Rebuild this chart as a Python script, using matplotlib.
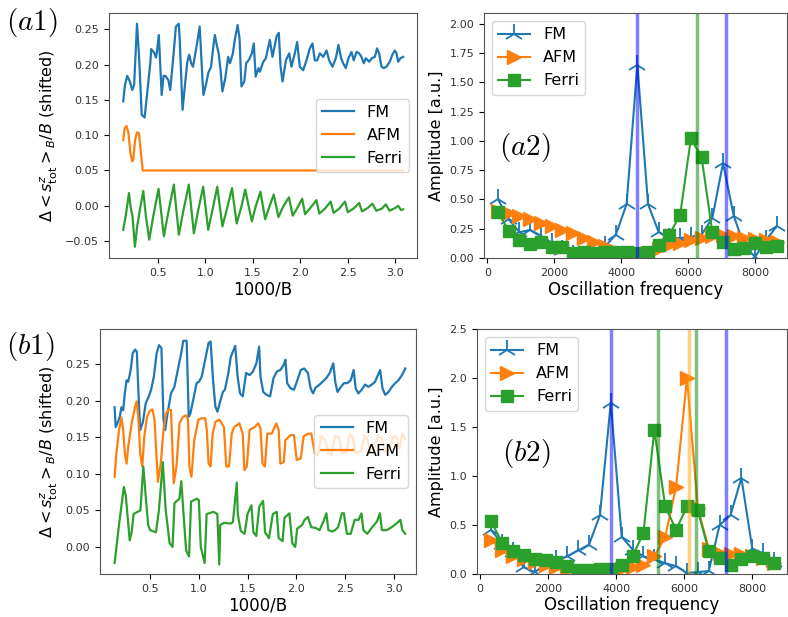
import matplotlib.pyplot as plt

# ---- left panels: (1000/B, shifted signal) vertices ----
a1_fm = [(0.135, 0.148), (0.153, 0.171), (0.177, 0.184), (0.205, 0.176), (0.23, 0.164), (0.25, 0.171),
         (0.28, 0.258), (0.30, 0.216), (0.33, 0.129), (0.36, 0.125), (0.38, 0.15), (0.42, 0.202),
         (0.43, 0.222), (0.46, 0.217), (0.48, 0.21), (0.49, 0.218), (0.51, 0.242), (0.54, 0.157),
         (0.56, 0.184), (0.58, 0.184), (0.61, 0.178), (0.63, 0.164), (0.66, 0.207), (0.69, 0.254),
         (0.72, 0.258), (0.73, 0.235), (0.76, 0.136), (0.78, 0.164), (0.81, 0.204), (0.83, 0.214),
         (0.85, 0.202), (0.87, 0.197), (0.91, 0.228), (0.94, 0.254), (0.95, 0.23), (0.97, 0.178),
         (0.98, 0.157), (1.01, 0.174), (1.03, 0.188), (1.06, 0.197), (1.08, 0.221), (1.10, 0.242),
         (1.12, 0.228), (1.14, 0.216), (1.16, 0.192), (1.18, 0.162), (1.21, 0.181), (1.24, 0.211),
         (1.26, 0.202), (1.29, 0.216), (1.31, 0.235), (1.34, 0.256), (1.36, 0.237), (1.38, 0.169),
         (1.41, 0.176), (1.43, 0.202), (1.46, 0.207), (1.49, 0.216), (1.51, 0.23), (1.53, 0.183),
         (1.56, 0.195), (1.574, 0.19), (1.61, 0.204), (1.637, 0.209), (1.679, 0.235), (1.707, 0.211),
         (1.75, 0.24), (1.774, 0.245), (1.792, 0.197), (1.813, 0.176), (1.848, 0.206), (1.883, 0.216),
         (1.907, 0.197), (1.942, 0.216), (1.967, 0.232), (1.995, 0.197), (2.03, 0.192), (2.065, 0.206),
         (2.1, 0.223), (2.128, 0.23), (2.153, 0.206), (2.178, 0.206), (2.206, 0.216), (2.241, 0.211),
         (2.276, 0.22), (2.304, 0.206), (2.339, 0.197), (2.374, 0.209), (2.402, 0.228), (2.43, 0.209),
         (2.451, 0.202), (2.479, 0.195), (2.507, 0.209), (2.539, 0.218), (2.563, 0.206), (2.592, 0.218),
         (2.62, 0.216), (2.644, 0.211), (2.669, 0.202), (2.69, 0.209), (2.725, 0.204), (2.753, 0.209),
         (2.785, 0.211), (2.809, 0.223), (2.83, 0.216), (2.855, 0.197), (2.879, 0.195), (2.907, 0.197),
         (2.942, 0.204), (2.97, 0.214), (2.995, 0.22), (3.013, 0.216), (3.03, 0.204), (3.055, 0.209),
         (3.083, 0.211)]
a1_afm = [(0.135, 0.093), (0.15, 0.11), (0.17, 0.113), (0.19, 0.103), (0.21, 0.075), (0.23, 0.063),
          (0.24, 0.065), (0.26, 0.093), (0.28, 0.104), (0.30, 0.103), (0.32, 0.077), (0.34, 0.05),
          (3.083, 0.05)]
a1_ferri = [(0.135, -0.034), (0.163, -0.013), (0.195, 0.018), (0.212, -0.001), (0.233, -0.015),
            (0.258, -0.058), (0.282, -0.029), (0.31, -0.006), (0.346, 0.021), (0.374, -0.015),
            (0.409, -0.048), (0.451, -0.015), (0.507, 0.024), (0.563, -0.043), (0.609, -0.01),
            (0.668, 0.03), (0.721, -0.041), (0.767, -0.008), (0.826, 0.03), (0.879, -0.039),
            (0.925, -0.006), (0.977, 0.027), (1.03, -0.034), (1.075, -0.006), (1.125, 0.027),
            (1.18, -0.029), (1.23, -0.003), (1.28, 0.025), (1.33, -0.025), (1.38, -0.001),
            (1.42, 0.023), (1.49, -0.022), (1.53, -0.001), (1.58, 0.02), (1.63, -0.019),
            (1.67, -0.003), (1.72, 0.016), (1.77, -0.016), (1.82, -0.001), (1.88, 0.012),
            (1.92, -0.014), (1.96, -0.005), (2.02, 0.01), (2.05, -0.012), (2.10, -0.004),
            (2.17, 0.008), (2.20, -0.011), (2.26, -0.004), (2.32, 0.006), (2.35, -0.01),
            (2.41, -0.004), (2.47, 0.006), (2.50, -0.009), (2.56, -0.004), (2.62, 0.004),
            (2.65, -0.008), (2.71, -0.003), (2.76, 0.003), (2.80, -0.007), (2.86, -0.004),
            (2.90, 0.002), (2.94, -0.007), (3.0, -0.003), (3.03, 0.0), (3.06, -0.006), (3.083, -0.005)]

b1_fm = [(0.135, 0.191), (0.146, 0.164), (0.17, 0.171), (0.188, 0.178), (0.205, 0.191), (0.223, 0.187),
         (0.24, 0.21), (0.258, 0.228), (0.275, 0.226), (0.3, 0.242), (0.321, 0.265), (0.346, 0.27),
         (0.363, 0.267), (0.38, 0.21), (0.398, 0.16), (0.426, 0.171), (0.454, 0.196), (0.486, 0.206),
         (0.51, 0.215), (0.538, 0.233), (0.567, 0.265), (0.591, 0.276), (0.616, 0.272), (0.637, 0.174),
         (0.654, 0.16), (0.679, 0.183), (0.714, 0.21), (0.749, 0.219), (0.784, 0.242), (0.819, 0.265),
         (0.84, 0.282), (0.875, 0.282), (0.896, 0.178), (0.914, 0.183), (0.942, 0.201), (0.977, 0.224),
         (1.002, 0.226), (1.03, 0.233), (1.065, 0.256), (1.1, 0.279), (1.121, 0.281), (1.146, 0.228),
         (1.17, 0.192), (1.191, 0.185), (1.223, 0.201), (1.247, 0.212), (1.268, 0.215), (1.303, 0.238),
         (1.328, 0.26), (1.374, 0.275), (1.398, 0.233), (1.423, 0.21), (1.451, 0.206), (1.486, 0.238),
         (1.521, 0.235), (1.556, 0.24), (1.591, 0.251), (1.619, 0.274), (1.633, 0.233), (1.661, 0.212),
         (1.696, 0.208), (1.732, 0.206), (1.767, 0.231), (1.802, 0.24), (1.837, 0.242), (1.872, 0.249),
         (1.889, 0.256), (1.907, 0.224), (1.942, 0.217), (1.977, 0.215), (2.012, 0.228), (2.047, 0.242),
         (2.082, 0.244), (2.12, 0.238), (2.148, 0.217), (2.172, 0.21), (2.2, 0.218), (2.24, 0.222),
         (2.27, 0.226), (2.31, 0.231), (2.345, 0.238), (2.38, 0.251), (2.403, 0.224), (2.424, 0.212),
         (2.455, 0.218), (2.49, 0.224), (2.525, 0.224), (2.56, 0.228), (2.59, 0.242), (2.61, 0.217),
         (2.638, 0.21), (2.672, 0.215), (2.707, 0.222), (2.741, 0.219), (2.776, 0.222), (2.81, 0.226),
         (2.862, 0.242), (2.886, 0.217), (2.914, 0.208), (2.948, 0.212), (2.983, 0.219), (3.017, 0.224),
         (3.05, 0.228), (3.086, 0.235), (3.12, 0.244)]
b1_afm = [(0.135, 0.096), (0.153, 0.128), (0.181, 0.16), (0.205, 0.177), (0.223, 0.16), (0.24, 0.128),
          (0.258, 0.114), (0.275, 0.137), (0.31, 0.169), (0.346, 0.192), (0.363, 0.199), (0.38, 0.174),
          (0.398, 0.128), (0.419, 0.11), (0.44, 0.151), (0.468, 0.178), (0.496, 0.186), (0.524, 0.188),
          (0.545, 0.174), (0.567, 0.119), (0.58, 0.089), (0.609, 0.114), (0.637, 0.16), (0.665, 0.183),
          (0.693, 0.188), (0.714, 0.187), (0.728, 0.137), (0.742, 0.087), (0.77, 0.11), (0.802, 0.169),
          (0.837, 0.178), (0.872, 0.18), (0.889, 0.174), (0.903, 0.11), (0.924, 0.096), (0.953, 0.146),
          (0.995, 0.174), (1.03, 0.176), (1.065, 0.176), (1.082, 0.16), (1.1, 0.114), (1.121, 0.11),
          (1.142, 0.155), (1.17, 0.171), (1.212, 0.174), (1.258, 0.164), (1.282, 0.11), (1.31, 0.11),
          (1.338, 0.155), (1.363, 0.164), (1.416, 0.169), (1.451, 0.155), (1.468, 0.105), (1.493, 0.11),
          (1.521, 0.16), (1.574, 0.164), (1.609, 0.169), (1.633, 0.162), (1.654, 0.114), (1.679, 0.11),
          (1.703, 0.155), (1.749, 0.155), (1.795, 0.169), (1.82, 0.16), (1.837, 0.114), (1.872, 0.116),
          (1.889, 0.146), (1.942, 0.153), (1.977, 0.153), (2.005, 0.119), (2.047, 0.121), (2.075, 0.151),
          (2.12, 0.155), (2.155, 0.155), (2.19, 0.128), (2.22, 0.125), (2.26, 0.152), (2.30, 0.145),
          (2.33, 0.128), (2.36, 0.125), (2.40, 0.152), (2.44, 0.15), (2.47, 0.128), (2.52, 0.13),
          (2.55, 0.155), (2.58, 0.15), (2.61, 0.128), (2.66, 0.13), (2.70, 0.152), (2.73, 0.148),
          (2.76, 0.13), (2.80, 0.135), (2.84, 0.152), (2.88, 0.148), (2.91, 0.13), (2.96, 0.135),
          (3.0, 0.152), (3.03, 0.15), (3.06, 0.135), (3.09, 0.155), (3.12, 0.148)]
b1_ferri = [(0.135, -0.022), (0.18, 0.03), (0.23, 0.082), (0.25, 0.07), (0.29, 0.009), (0.31, 0.02),
            (0.33, 0.045), (0.37, 0.048), (0.40, 0.05), (0.43, 0.11), (0.46, 0.06), (0.48, 0.03),
            (0.50, 0.023), (0.56, 0.02), (0.59, 0.05), (0.63, 0.116), (0.66, 0.05), (0.70, 0.005),
            (0.73, 0.0), (0.75, 0.06), (0.80, 0.066), (0.82, 0.09), (0.84, 0.05), (0.87, -0.005),
            (0.90, -0.013), (0.92, 0.062), (0.98, 0.066), (1.00, 0.064), (1.02, 0.0), (1.06, -0.022),
            (1.08, 0.045), (1.15, 0.048), (1.19, 0.045), (1.21, -0.024), (1.22, 0.03), (1.26, 0.033),
            (1.33, 0.032), (1.35, 0.034), (1.39, 0.088), (1.40, 0.045), (1.43, 0.022), (1.47, 0.018),
            (1.50, 0.045), (1.54, 0.057), (1.56, 0.02), (1.59, 0.015), (1.62, 0.055), (1.66, 0.063),
            (1.68, 0.02), (1.72, 0.012), (1.76, 0.045), (1.80, 0.048), (1.82, 0.012), (1.86, 0.008),
            (1.88, 0.04), (1.93, 0.046), (1.96, 0.005), (1.99, 0.0), (2.01, 0.025), (2.06, 0.03),
            (2.086, 0.037), (2.12, 0.041), (2.155, 0.027), (2.2, 0.026), (2.24, 0.023), (2.28, 0.035),
            (2.31, 0.046), (2.33, 0.023), (2.37, 0.021), (2.40, 0.023), (2.43, 0.027), (2.47, 0.046),
            (2.49, 0.046), (2.52, 0.018), (2.56, 0.018), (2.6, 0.037), (2.64, 0.037), (2.67, 0.046),
            (2.69, 0.023), (2.73, 0.018), (2.78, 0.027), (2.83, 0.035), (2.86, 0.046), (2.88, 0.023),
            (2.93, 0.023), (2.98, 0.027), (3.03, 0.032), (3.07, 0.037), (3.09, 0.023), (3.12, 0.018)]

# ---- right panels: spectra ----
freqs = [320, 640, 960, 1280, 1600, 1920, 2240, 2560, 2880, 3200, 3520, 3840, 4160, 4480,
         4800, 5120, 5440, 5760, 6080, 6400, 6720, 7040, 7360, 7680, 8000, 8320, 8640]
a2_fm = [0.50, 0.33, 0.22, 0.24, 0.19, 0.13, 0.07, 0.03, 0.02, 0.01, 0.10, 0.20, 0.46, 1.65,
         0.46, 0.22, 0.17, 0.17, 0.18, 0.20, 0.34, 0.81, 0.36, 0.10, 0.01, 0.15, 0.27]
a2_afm = [0.40, 0.38, 0.36, 0.33, 0.30, 0.27, 0.24, 0.21, 0.17, 0.14, 0.10, 0.06, 0.03, 0.01,
          0.04, 0.08, 0.11, 0.13, 0.155, 0.175, 0.19, 0.195, 0.185, 0.175, 0.165, 0.155, 0.14]
a2_ferri = [0.39, 0.23, 0.155, 0.12, 0.135, 0.09, 0.09, 0.045, 0.055, 0.045, 0.05, 0.055, 0.055, 0.04,
            0.055, 0.11, 0.20, 0.37, 1.02, 0.86, 0.22, 0.14, 0.08, 0.085, 0.125, 0.09, 0.10]
a2_vlines = [(4480, 'b'), (6250, 'g'), (7120, 'b')]

b2_fm = [0.45, 0.31, 0.22, 0.07, 0.02, 0.09, 0.14, 0.18, 0.24, 0.30, 0.60, 1.75, 0.38, 0.25,
         0.18, 0.15, 0.11, 0.08, 0.01, 0.02, 0.03, 0.50, 0.60, 0.98, 0.26, 0.21, 0.12]
b2_afm = [0.35, 0.24, 0.18, 0.15, 0.12, 0.09, 0.07, 0.04, 0.02, 0.03, 0.03, 0.03, 0.05, 0.07,
          0.09, 0.18, 0.38, 0.89, 2.00, 0.67, 0.26, 0.21, 0.20, 0.20, 0.18, 0.16, 0.11]
b2_ferri = [0.54, 0.32, 0.23, 0.19, 0.15, 0.14, 0.12, 0.08, 0.04, 0.04, 0.05, 0.05, 0.09, 0.18,
            0.42, 1.47, 0.69, 0.45, 0.69, 0.65, 0.23, 0.16, 0.09, 0.15, 0.18, 0.16, 0.11]
b2_vlines = [(3850, 'b'), (5220, 'g'), (6150, 'orange'), (6340, 'g'), (7215, 'b')]

names = ['FM', 'AFM', 'Ferri']
ylab_left = r'$\Delta < s^z_{\rm tot} >_B/B$ (shifted)'


def left_panel(ax, series, ylim):
    for pts, name in zip(series, names):
        xs, ys = zip(*pts)
        ax.plot(xs, ys, lw=1.6, label=name)
    ax.set_xlim(-0.015, 3.23)
    ax.set_ylim(*ylim)
    ax.set_xticks([0.5, 1.0, 1.5, 2.0, 2.5, 3.0])
    ax.set_xlabel('1000/B', fontsize=12, labelpad=2)
    ax.set_ylabel(ylab_left, fontsize=11.5, labelpad=4)
    ax.legend(loc='center right', fontsize=11.5)


def right_panel(ax, fm, afm, ferri, vlines, xlim, ylim):
    ax.plot(freqs, fm, marker='2', ms=15, mew=1.3, lw=1.5, label='FM')
    ax.plot(freqs, afm, marker='>', ms=10, lw=1.5, label='AFM')
    ax.plot(freqs, ferri, marker='s', ms=8, lw=1.5, label='Ferri')
    for xv, c in vlines:
        ax.axvline(xv, color=c, alpha=0.5, lw=2.5)
    ax.set_xlim(*xlim)
    ax.set_ylim(*ylim)
    ax.set_xticks([0, 2000, 4000, 6000, 8000])
    ax.set_xlabel('Oscillation frequency', fontsize=12, labelpad=2)
    ax.set_ylabel('Amplitude [a.u.]', fontsize=11.5, labelpad=4)
    ax.legend(loc='upper left', fontsize=11.5)


fig = plt.figure(figsize=(7.88, 6.17), dpi=100)
ax_a1 = fig.add_axes([0.1383, 0.5818, 0.391, 0.397])
ax_a2 = fig.add_axes([0.6142, 0.5818, 0.3845, 0.397])
ax_b1 = fig.add_axes([0.1269, 0.0697, 0.401, 0.397])
ax_b2 = fig.add_axes([0.6053, 0.0697, 0.3934, 0.397])

left_panel(ax_a1, [a1_fm, a1_afm, a1_ferri], (-0.074, 0.273))
left_panel(ax_b1, [b1_fm, b1_afm, b1_ferri], (-0.037, 0.298))
right_panel(ax_a2, a2_fm, a2_afm, a2_ferri, a2_vlines, (-100, 8950), (0, 2.09))
ax_a2.set_yticks([0, 0.25, 0.5, 0.75, 1.0, 1.25, 1.5, 1.75, 2.0])
right_panel(ax_b2, b2_fm, b2_afm, b2_ferri, b2_vlines, (-95, 9020), (0, 2.5))

for ax in [ax_a1, ax_a2, ax_b1, ax_b2]:
    ax.tick_params(labelsize=8, labelcolor='#333333', length=3.5, width=0.8)
    for sp in ax.spines.values():
        sp.set_color('#555555')

fig.text(0.008, 0.99, r'$(a1)$', fontsize=21, va='top', ha='left', math_fontfamily='cm')
fig.text(0.008, 0.465, r'$(b1)$', fontsize=21, va='top', ha='left', math_fontfamily='cm')
ax_a2.text(0.05, 0.45, r'$(a2)$', fontsize=21, va='center', ha='left',
           transform=ax_a2.transAxes, math_fontfamily='cm')
ax_b2.text(0.08, 0.49, r'$(b2)$', fontsize=21, va='center', ha='left',
           transform=ax_b2.transAxes, math_fontfamily='cm')

plt.savefig('out.png', dpi=100)
